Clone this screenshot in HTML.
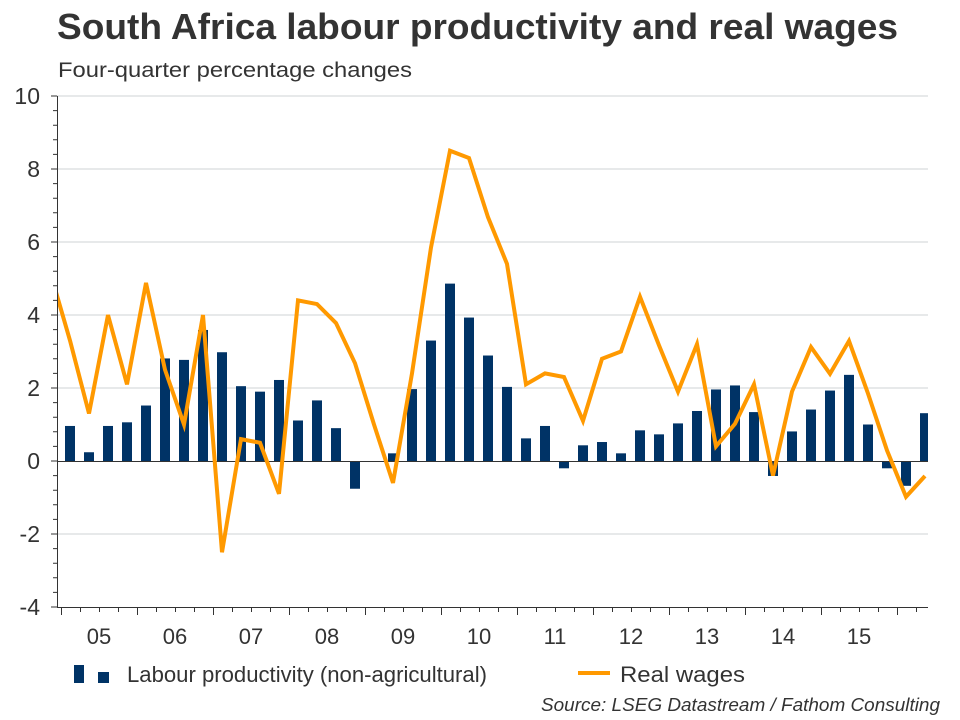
<!DOCTYPE html>
<html><head><meta charset="utf-8"><style>
body{margin:0;background:#fff;width:960px;height:720px;overflow:hidden}
svg{display:block}
text{font-family:"Liberation Sans",Arial,sans-serif;fill:#333}
</style></head><body>
<svg width="960" height="720" viewBox="0 0 960 720">
<text x="57" y="39" font-size="36" font-weight="bold" textLength="841" lengthAdjust="spacingAndGlyphs">South Africa labour productivity and real wages</text>
<text x="58" y="77" font-size="21" textLength="354" lengthAdjust="spacingAndGlyphs">Four-quarter percentage changes</text>
<g stroke="#cfd3d6" stroke-width="1">
<line x1="57" x2="928" y1="96" y2="96"/><line x1="57" x2="928" y1="169" y2="169"/>
<line x1="57" x2="928" y1="242" y2="242"/><line x1="57" x2="928" y1="315" y2="315"/>
<line x1="57" x2="928" y1="388" y2="388"/><line x1="57" x2="928" y1="534" y2="534"/>
</g>
<g font-size="23" text-anchor="end">
<text x="40" y="104">10</text><text x="40" y="177">8</text><text x="40" y="250">6</text>
<text x="40" y="323">4</text><text x="40" y="396">2</text><text x="40" y="469">0</text>
<text x="40" y="542">-2</text><text x="40" y="615">-4</text>
</g>
<g transform="translate(0,461) scale(1,-36.5)" fill="#003366">
<rect x="65" y="0" width="10" height="0.96"/>
<rect x="84" y="0" width="10" height="0.24"/>
<rect x="103" y="0" width="10" height="0.96"/>
<rect x="122" y="0" width="10" height="1.06"/>
<rect x="141" y="0" width="10" height="1.52"/>
<rect x="160" y="0" width="10" height="2.81"/>
<rect x="179" y="0" width="10" height="2.77"/>
<rect x="198" y="0" width="10" height="3.59"/>
<rect x="217" y="0" width="10" height="2.98"/>
<rect x="236" y="0" width="10" height="2.05"/>
<rect x="255" y="0" width="10" height="1.90"/>
<rect x="274" y="0" width="10" height="2.22"/>
<rect x="293" y="0" width="10" height="1.11"/>
<rect x="312" y="0" width="10" height="1.66"/>
<rect x="331" y="0" width="10" height="0.90"/>
<rect x="350" y="-0.76" width="10" height="0.76"/>
<rect x="388" y="0" width="10" height="0.21"/>
<rect x="407" y="0" width="10" height="1.97"/>
<rect x="426" y="0" width="10" height="3.30"/>
<rect x="445" y="0" width="10" height="4.86"/>
<rect x="464" y="0" width="10" height="3.93"/>
<rect x="483" y="0" width="10" height="2.89"/>
<rect x="502" y="0" width="10" height="2.03"/>
<rect x="521" y="0" width="10" height="0.62"/>
<rect x="540" y="0" width="10" height="0.96"/>
<rect x="559" y="-0.2" width="10" height="0.2"/>
<rect x="578" y="0" width="10" height="0.43"/>
<rect x="597" y="0" width="10" height="0.52"/>
<rect x="616" y="0" width="10" height="0.21"/>
<rect x="635" y="0" width="10" height="0.84"/>
<rect x="654" y="0" width="10" height="0.73"/>
<rect x="673" y="0" width="10" height="1.03"/>
<rect x="692" y="0" width="10" height="1.37"/>
<rect x="711" y="0" width="10" height="1.96"/>
<rect x="730" y="0" width="10" height="2.07"/>
<rect x="749" y="0" width="10" height="1.34"/>
<rect x="768" y="-0.41" width="10" height="0.41"/>
<rect x="787" y="0" width="10" height="0.81"/>
<rect x="806" y="0" width="10" height="1.41"/>
<rect x="825" y="0" width="10" height="1.93"/>
<rect x="844" y="0" width="10" height="2.36"/>
<rect x="863" y="0" width="10" height="1.00"/>
<rect x="882" y="-0.2" width="10" height="0.2"/>
<rect x="901" y="-0.68" width="10" height="0.68"/>
<rect x="920" y="0" width="8" height="1.31"/>
</g>
<line x1="57" x2="928" y1="461.5" y2="461.5" stroke="#333" stroke-width="1"/>
<clipPath id="c"><rect x="57" y="90" width="871" height="520"/></clipPath>
<g clip-path="url(#c)">
<g transform="translate(0,461) scale(1,-36.5)">
<polyline fill="none" stroke="#ff9900" stroke-width="4" stroke-linejoin="miter" vector-effect="non-scaling-stroke"
points="51,5.1 70,3.3 89,1.3 108,4.0 127,2.1 146,4.88 165,2.5 184,1.0 203,4.0 222,-2.5 241,0.6 260,0.5 279,-0.9 298,4.4 317,4.3 336,3.78 355,2.68 374,1.0 393,-0.6 412,2.4 431,5.85 450,8.5 469,8.3 488,6.68 507,5.4 526,2.1 545,2.4 564,2.3 583,1.1 602,2.8 621,3.0 640,4.5 659,3.17 678,1.9 697,3.2 716,0.4 735,1.02 754,2.1 773,-0.4 792,1.9 811,3.12 830,2.39 849,3.29 868,1.85 887,0.29 906,-0.98 925,-0.41"/>
</g></g>
<g stroke="#333" stroke-width="1">
<line x1="57.5" x2="57.5" y1="96" y2="608"/>
<line x1="57" x2="928" y1="607.5" y2="607.5"/>
<path d="M51 96H57M51 169H57M51 242H57M51 315H57M51 388H57M51 461H57M51 534H57M51 607H57
M53 110.6H57M53 125.2H57M53 139.8H57M53 154.4H57M53 183.6H57M53 198.2H57M53 212.8H57M53 227.4H57
M53 256.6H57M53 271.2H57M53 285.8H57M53 300.4H57M53 329.6H57M53 344.2H57M53 358.8H57M53 373.4H57
M53 402.6H57M53 417.2H57M53 431.8H57M53 446.4H57M53 475.6H57M53 490.2H57M53 504.8H57M53 519.4H57
M53 548.6H57M53 563.2H57M53 577.8H57M53 592.4H57"/>
<path d="M61.5 608v7M137.5 608v7M213.5 608v7M289.5 608v7M365.5 608v7M441.5 608v7M517.5 608v7M593.5 608v7M669.5 608v7M745.5 608v7M821.5 608v7M897.5 608v7
M80.5 608v4M99.5 608v4M118.5 608v4M156.5 608v4M175.5 608v4M194.5 608v4M232.5 608v4M251.5 608v4M270.5 608v4M308.5 608v4M327.5 608v4M346.5 608v4M384.5 608v4M403.5 608v4M422.5 608v4M460.5 608v4M479.5 608v4M498.5 608v4M536.5 608v4M555.5 608v4M574.5 608v4M612.5 608v4M631.5 608v4M650.5 608v4M688.5 608v4M707.5 608v4M726.5 608v4M764.5 608v4M783.5 608v4M802.5 608v4M840.5 608v4M859.5 608v4M878.5 608v4M916.5 608v4"/>
</g>
<g font-size="22" text-anchor="middle">
<text x="99" y="644">05</text><text x="175" y="644">06</text><text x="251" y="644">07</text>
<text x="327" y="644">08</text><text x="403" y="644">09</text><text x="479" y="644">10</text>
<text x="555" y="644">11</text><text x="631" y="644">12</text><text x="707" y="644">13</text>
<text x="783" y="644">14</text><text x="859" y="644">15</text>
</g>
<rect x="74" y="665" width="10" height="18" fill="#003366"/>
<rect x="98" y="672" width="11" height="11" fill="#003366"/>
<text x="127" y="682" font-size="22" textLength="360" lengthAdjust="spacingAndGlyphs">Labour productivity (non-agricultural)</text>
<line x1="578" x2="610" y1="673" y2="673" stroke="#ff9900" stroke-width="4"/>
<text x="620" y="682" font-size="22" textLength="125" lengthAdjust="spacingAndGlyphs">Real wages</text>
<text x="940" y="711" font-size="18.5" font-style="italic" text-anchor="end" textLength="399" lengthAdjust="spacingAndGlyphs">Source: LSEG Datastream / Fathom Consulting</text>
</svg>
</body></html>
